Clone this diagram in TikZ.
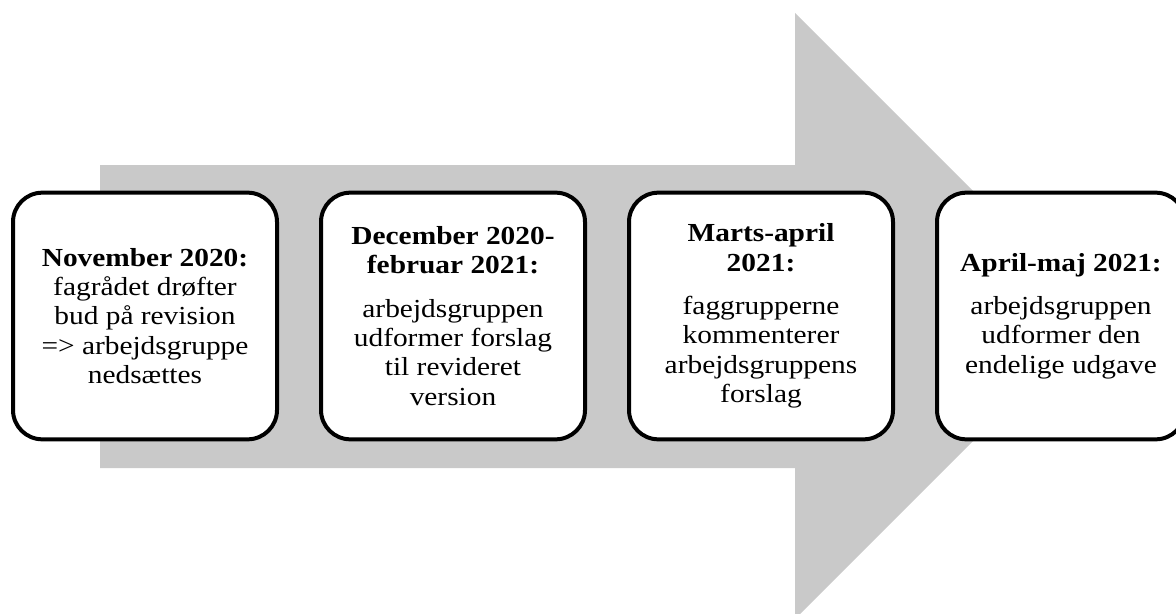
\documentclass[tikz,border=0pt]{standalone}
\usepackage{fontspec}
\setmainfont{Liberation Serif}[FakeStretch=1.13]
\usetikzlibrary{positioning}
\definecolor{arrowgray}{RGB}{201,201,201}
\tikzset{
        tl_box/.style = {draw=black, line width=3pt, fill=white,
            rounded corners=22pt, align=center, inner sep=2pt,
            minimum width=198pt, minimum height=185pt,
            font=\fontsize{19.5pt}{22pt}\selectfont},
        tl_last/.style = {tl_box, minimum width=186pt}
    }

\begin{document}
\begin{tikzpicture}[x=0.75pt, y=-0.75pt, node distance=30pt]
    \useasboundingbox (0,0) rectangle (1176,613);
    % big grey arrow behind the boxes
    \fill [arrowgray] (100,165) -- (795,165) -- (795,13) -- (1098,316)
        -- (795,619) -- (795,468) -- (100,468) -- cycle;
    \node [tl_box] (nov) at (145,316)
        {\textbf{November 2020:}\\ fagrådet drøfter\\ bud på revision\\
         => arbejdsgruppe\\ nedsættes};
    \node [tl_box, right=of nov] (dec)
        {\textbf{December 2020-}\\ \textbf{februar 2021:}\\[10.5pt]
         arbejdsgruppen\\ udformer forslag\\ til revideret\\ version};
    \node [tl_box, right=of dec] (mar)
        {\textbf{Marts-april}\\ \textbf{2021:}\\[10.5pt]
         faggrupperne\\ kommenterer\\ arbejdsgruppens\\ forslag};
    \node [tl_last, right=of mar] (apr)
        {\textbf{April-maj 2021:}\\[10.5pt]
         arbejdsgruppen\\ udformer den\\ endelige udgave};
\end{tikzpicture}
\end{document}
